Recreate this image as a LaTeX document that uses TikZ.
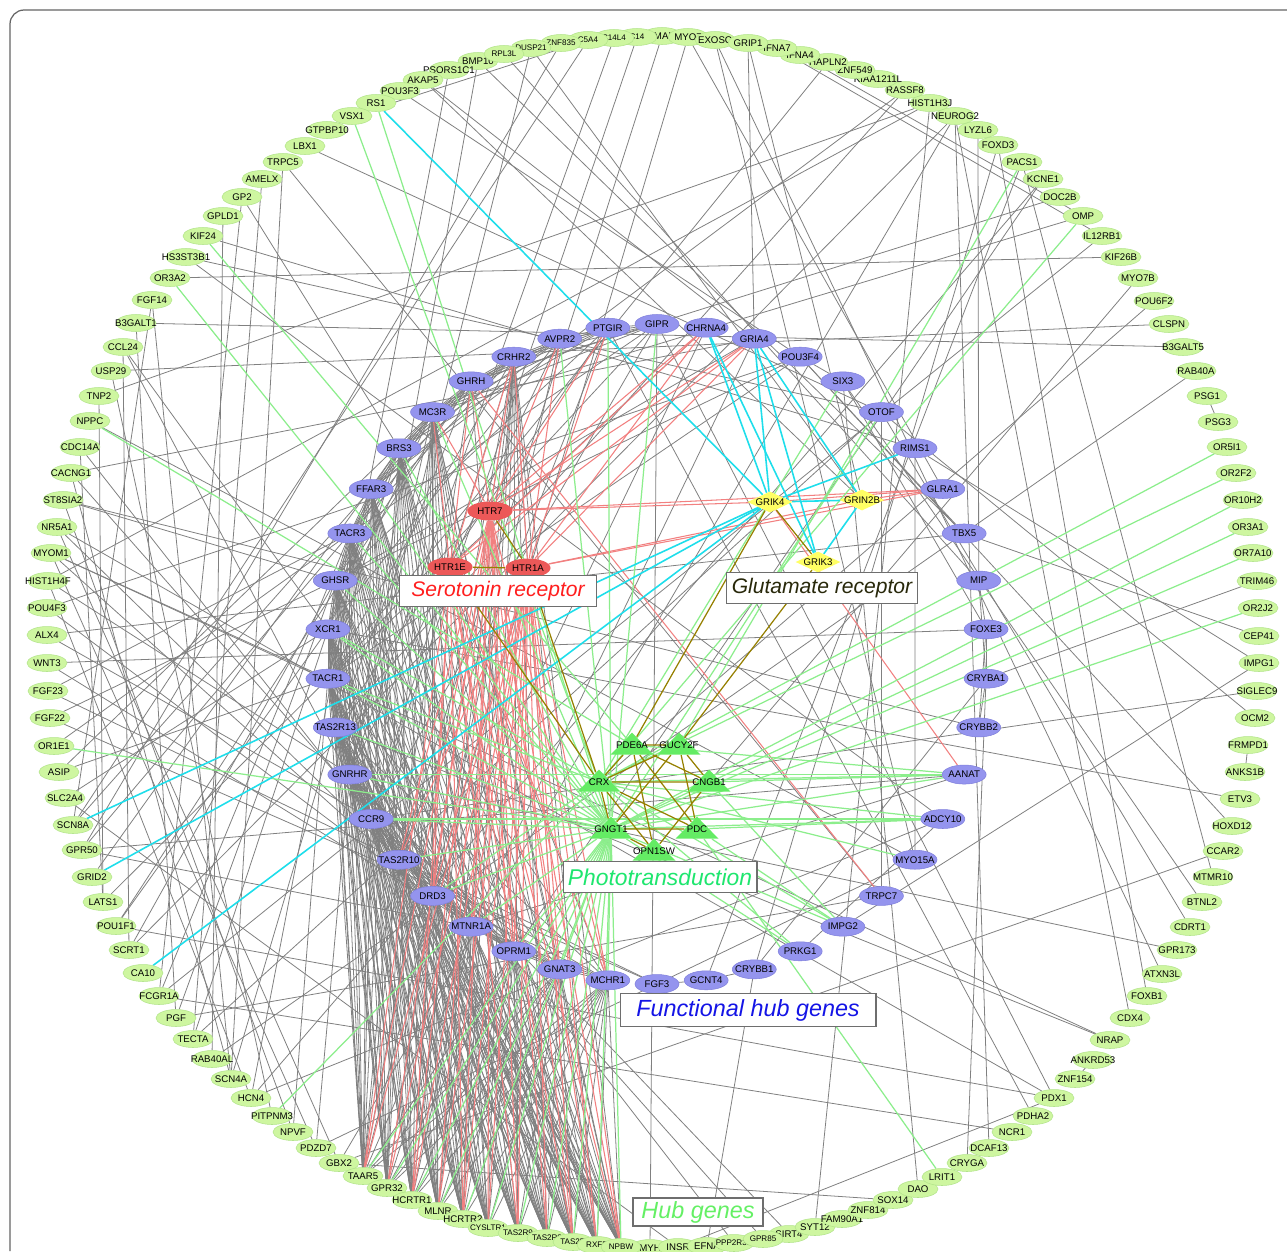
\documentclass[tikz,border=0pt]{standalone}
\usepackage{fontspec}
\setmainfont{Liberation Sans}
\usetikzlibrary{shapes.geometric, backgrounds}

\definecolor{ringfill}{RGB}{206,246,160}
\definecolor{ringline}{RGB}{178,228,138}
\definecolor{hubfill}{RGB}{148,148,238}
\definecolor{hubline}{RGB}{128,128,220}
\definecolor{serofill}{RGB}{236,88,88}
\definecolor{glutfill}{RGB}{255,255,100}
\definecolor{photofill}{RGB}{100,236,100}
\definecolor{linkgray}{RGB}{128,128,128}
\definecolor{linkgreen}{RGB}{140,238,140}
\definecolor{linkpink}{RGB}{242,128,128}
\definecolor{linkcyan}{RGB}{30,222,235}
\definecolor{linkolive}{RGB}{150,128,0}
\definecolor{framegray}{RGB}{100,100,100}
\definecolor{tagline}{RGB}{110,110,110}
\definecolor{textred}{RGB}{255,30,30}
\definecolor{textolive}{RGB}{40,40,10}
\definecolor{textgreen}{RGB}{30,230,110}
\definecolor{textblue}{RGB}{20,20,230}
\definecolor{textlime}{RGB}{100,240,100}

\begin{document}
\begin{tikzpicture}[
        x=0.02cm, y=-0.02cm,
        slim/.style={
            execute at begin node={\hbox to 0pt\bgroup\hss},
            execute at end node={\hss\egroup}
        },
        ringgene/.style={
            ellipse, slim,
            fill=ringfill, draw=ringline, line width=0.3pt,
            inner sep=0pt,
            minimum width=0.8cm, minimum height=0.34cm,
            font=\fontsize{5.5}{6}\selectfont
        },
        tightgene/.style={
            ringgene,
            font=\fontsize{4.6}{5}\selectfont
        },
        hubgene/.style={
            ellipse, slim,
            fill=hubfill, draw=hubline, line width=0.3pt,
            inner sep=0pt,
            minimum width=0.88cm, minimum height=0.38cm,
            font=\fontsize{5.5}{6}\selectfont
        },
        serogene/.style={
            ellipse, slim,
            fill=serofill, inner sep=0pt,
            minimum width=0.9cm, minimum height=0.38cm,
            font=\fontsize{5.5}{6}\selectfont
        },
        glutgene/.style={
            diamond, slim,
            fill=glutfill, inner sep=0pt,
            minimum width=0.9cm, minimum height=0.42cm,
            font=\fontsize{5.5}{6}\selectfont
        },
        photogene/.style={
            isosceles triangle, isosceles triangle stretches,
            shape border rotate=90, slim,
            fill=photofill, inner sep=0pt,
            minimum width=0.86cm, minimum height=0.44cm,
            font=\fontsize{5.5}{6}\selectfont
        },
        graylink/.style={draw=linkgray, line width=0.45pt},
        greenlink/.style={draw=linkgreen, line width=0.7pt},
        pinklink/.style={draw=linkpink, line width=0.6pt},
        cyanlink/.style={draw=linkcyan, line width=0.9pt},
        olivelink/.style={draw=linkolive, line width=0.7pt},
        legendtag/.style={
            rectangle, draw=tagline, fill=white,
            line width=0.6pt, inner sep=0pt
        }
        ]

        \useasboundingbox (0,0) rectangle (1287,1251);

        % Frame
        \draw[framegray, line width=0.7pt, rounded corners=8pt]
        (1287,10) -- (10,10) -- (10,1251);

        % Outer ring of genes
        \foreach \n/\px/\py in {LMAN/662/36, BMP10/478/61, PSORS1C1/449/70, AKAP5/423/80, POU3F3/400/91, RS1/376/103, VSX1/352/116, GTPBP10/327/130, LBX1/305/146, TRPC5/283/162, AMELX/262/179, GP2/242/197, GPLD1/223/216, KIF24/203/236, HS3ST3B1/186/257, OR3A2/170/278, FGF14/152/300, B3GALT1/136/323, CCL24/123/347, USP29/111/371, TNP2/99/396, NPPC/90/421, CDC14A/80/447, CACNG1/71/473, ST8SIA2/63/500, NR5A1/57/527, MYOM1/51/553, HIST1H4F/48/581, POU4F3/47/608, ALX4/47/635, WNT3/47/663, FGF23/48/691, FGF22/50/718, OR1E1/54/746, ASIP/59/772, SLC2A4/65/798, SCN8A/73/825, GPR50/82/850, GRID2/92/877, LATS1/103/902, POU1F1/116/926, SCRT1/129/950, CA10/143/973, FCGR1A/159/996, PGF/176/1018, TECTA/193/1039, RAB40AL/212/1059, SCN4A/231/1079, HCN4/251/1098, PITPNM3/272/1116, NPVF/293/1132, PDZD7/316/1148, GBX2/339/1163, TAAR5/363/1176, GPR32/387/1188, HCRTR1/412/1200, MLNR/438/1211, HCRTR2/463/1219, MYH/650/1248, INSR/678/1247, EFNA/707/1246, SIRT4/789/1234, SYT12/815/1227, FAM90A1/842/1219, ZNF814/868/1210, SOX14/893/1200, DAO/918/1189, LRIT1/942/1177, CRYGA/967/1163, DCAF13/989/1148, NCR1/1012/1132, PDHA2/1033/1116, PDX1/1054/1098, ZNF154/1075/1079, ANKRD53/1093/1060, NRAP/1110/1040, CDX4/1130/1018, FOXB1/1147/996, ATXN3L/1162/974, GPR173/1177/950, CDRT1/1190/927, BTNL2/1202/902, MTMR10/1213/877, CCAR2/1223/851, HOXD12/1232/826, ETV3/1240/799, ANKS1B/1245/772, FRMPD1/1248/745, OCM2/1255/718, SIGLEC9/1257/691, IMPG1/1259/663, CEP41/1259/636, OR2J2/1258/608, TRIM46/1257/581, OR7A10/1253/553, OR3A1/1248/527, OR10H2/1243/500, OR2F2/1236/473, OR5I1/1227/447, PSG3/1218/422, PSG1/1207/396, RAB40A/1196/371, B3GALT5/1183/347, CLSPN/1169/324, POU6F2/1154/301, MYO7B/1138/278, KIF26B/1121/257, IL12RB1/1102/236, OMP/1083/216, DOC2B/1060/197, KCNE1/1043/179, PACS1/1022/162, FOXD3/998/145, LYZL6/978/130, NEUROG2/955/116, HIST1H3J/930/103, RASSF8/905/90, KIAA1211L/878/79, ZNF549/855/70, HAPLN2/828/62, IFNA4/800/55, IFNA7/777/48, MYO7/688/37, EXOSC/715/40, GRIP1/748/43}
        \node[ringgene] (\n) at (\px,\py) {\n};
        \foreach \n/\px/\py in {C14/637/37, C14L4/614/38, C5A4/588/40, ZNF835/561/43, DUSP21/531/48, RPL3L/504/54, CYSLTR1/488/1228, TAS2R9/518/1233, TAS2R8/547/1238, TAS2R/573/1242, RXFP/597/1245, NPBW/621/1247, PPP2R3B/734/1243, GPR85/763/1239}
        \node[tightgene] (\n) at (\px,\py) {\n};

        % Inner ring of functional hub genes
        \foreach \n [count=\i from 0] in {GIPR, CHRNA4, GRIA4, POU3F4, SIX3, OTOF, RIMS1, GLRA1, TBX5, MIP, FOXE3, CRYBA1, CRYBB2, AANAT, ADCY10, MYO15A, TRPC7, IMPG2, PRKG1, CRYBB1, GCNT4, FGF3, MCHR1, GNAT3, OPRM1, MTNR1A, DRD3, TAS2R10, CCR9, GNRHR, TAS2R13, TACR1, XCR1, GHSR, TACR3, FFAR3, BRS3, MC3R, GHRH, CRHR2, AVPR2, PTGIR}
        \node[hubgene] (\n) at ({657+330*cos(90-\i*360/42)}, {654-330*sin(90-\i*360/42)}) {\n};

        % Serotonin receptors
        \node[serogene] (HTR7) at (490,511) {HTR7};
        \node[serogene] (HTR1E) at (450,567) {HTR1E};
        \node[serogene] (HTR1A) at (528,568) {HTR1A};

        % Glutamate receptors
        \node[glutgene] (GRIK4) at (770,502) {GRIK4};
        \node[glutgene] (GRIN2B) at (862,500) {GRIN2B};
        \node[glutgene] (GRIK3) at (818,562) {GRIK3};

        % Phototransduction
        \node[photogene] (PDE6A) at (632,745) {PDE6A};
        \node[photogene] (GUCY2F) at (679,745) {GUCY2F};
        \node[photogene] (CRX) at (599,782) {CRX};
        \node[photogene] (CNGB1) at (709,782) {CNGB1};
        \node[photogene] (GNGT1) at (611,829) {GNGT1};
        \node[photogene] (PDC) at (697,829) {PDC};
        \node[photogene] (OPN1SW) at (654,851) {OPN1SW};

        % Labels
        \node[legendtag, text=textred, minimum width=3.94cm, minimum height=0.62cm,
        font=\itshape\fontsize{12}{14}\selectfont] (serotag) at (498,591) {Serotonin receptor};
        \node[legendtag, text=textolive, minimum width=3.82cm, minimum height=0.62cm,
        font=\itshape\fontsize{12}{14}\selectfont] (gluttag) at (822,588) {Glutamate receptor};
        \node[legendtag, text=textgreen, minimum width=3.88cm, minimum height=0.62cm,
        font=\itshape\fontsize{13}{15}\selectfont] (phototag) at (660,877) {Phototransduction};
        \node[legendtag, text=textblue, minimum width=5.12cm, minimum height=0.66cm,
        font=\itshape\fontsize{13.3}{15}\selectfont] (hubtag) at (748,1010) {Functional hub genes};
        \node[legendtag, text=textlime, minimum width=2.6cm, minimum height=0.56cm,
        font=\itshape\fontsize{13.3}{15}\selectfont] (genetag) at (698,1212) {Hub genes};

        \begin{pgfonlayer}{background}
        \fill[white] (0,0) rectangle (1287,1251);

        % Receptor fan to the lower rim
        \foreach \p in {TAAR5, GPR32, HCRTR1, MLNR, HCRTR2, CYSLTR1, TAS2R9, TAS2R8, TAS2R, RXFP, NPBW}
        \foreach \q in {BRS3, FFAR3, TACR3, GHSR, XCR1, TACR1, TAS2R13, GNRHR, CCR9, TAS2R10, DRD3, MTNR1A, OPRM1, GNAT3, MCHR1, MC3R, CRHR2}
        \draw[graylink] (\p) -- (\q);

        % Receptor arc
        \foreach \p [count=\i] in {GIPR, PTGIR, AVPR2, CRHR2, GHRH, MC3R, BRS3, FFAR3, TACR3, GHSR, XCR1, TACR1, TAS2R13, GNRHR, CCR9, TAS2R10, DRD3, MTNR1A, OPRM1, GNAT3, MCHR1}
        \foreach \q [count=\j] in {GIPR, PTGIR, AVPR2, CRHR2, GHRH, MC3R, BRS3, FFAR3, TACR3, GHSR, XCR1, TACR1, TAS2R13, GNRHR, CCR9, TAS2R10, DRD3, MTNR1A, OPRM1, GNAT3, MCHR1}
        {
            \pgfmathtruncatemacro\keep{(\j>\i)&&((\j-\i<6)||(\j-\i==8)||(\j-\i==11)||(\j-\i==14))}
            \ifnum\keep=1 \draw[graylink] (\p) -- (\q); \fi
        }

        % Other gray links
        \foreach \p/\q in {MYO7/GLRA1, MYO7/DRD3, LMAN/TAS2R10, C14/CCR9, C14L4/GNRHR, C5A4/SCN8A, VSX1/C5A4, ZNF835/GPR50, DUSP21/GRIN2B, DUSP21/GNRHR, RPL3L/MIP, BMP10/TBX5, BMP10/GNRHR, PSORS1C1/HCN4, AKAP5/GRIA4, AKAP5/GRIN2B, POU3F3/POU3F4, LBX1/OTOF, TRPC5/TRPC7, TRPC5/SCN4A, AMELX/TECTA, GP2/BRS3, GP2/FCGR1A, GPLD1/RAB40AL, KIF24/RIMS1, HS3ST3B1/ADCY10, HS3ST3B1/OTOF, FGF14/SCN8A, FGF14/SCN4A, B3GALT1/B3GALT5, B3GALT1/PGF, CCL24/XCR1, CCL24/CCR9, USP29/CLSPN, TNP2/HIST1H3J, NPPC/MYO15A, CDC14A/LATS1, CACNG1/SCN4A, CACNG1/GRIA4, ST8SIA2/CRYBB2, NR5A1/PDX1, MYOM1/NRAP, HIST1H4F/HIST1H3J, POU4F3/POU3F4, ALX4/TBX5, WNT3/FOXE3, FGF23/FGF3, FGF22/FGF3, ASIP/MC3R, SLC2A4/INSR, GPR50/MTNR1A, POU1F1/PDX1, POU1F1/GHRH, SCRT1/NEUROG2, PGF/TRPC7, TECTA/OTOF, RAB40AL/RAB40A, HCN4/ADCY10, HCN4/KCNE1, FCGR1A/IL12RB1, NPVF/GHSR, PDZD7/MYO15A, GBX2/SOX14, GPR85/GNRHR, SYT12/HIST1H3J, DAO/SIX3, CRYGA/CRYBA1, LYZL6/MIP, DCAF13/NEUROG2, NCR1/FCGR1A, PDHA2/PTGIR, PDX1/GIPR, ZNF154/ANKRD53, NRAP/TAS2R13, CDX4/NEUROG2, FOXB1/FOXD3, ATXN3L/EXOSC, GPR173/GNRHR, CDRT1/OTOF, BTNL2/SIX3, MTMR10/PACS1, CCAR2/GBX2, HOXD12/POU3F4, ETV3/XCR1, ANKS1B/FRMPD1, OCM2/OTOF, SIGLEC9/CCR9, IMPG1/RIMS1, IMPG1/IMPG2, CEP41/TBX5, TRIM46/CRYBA1, PSG1/PSG3, POU6F2/CRX, MYO7B/CNGB1, KIF26B/OR3A2, DOC2B/GHRH, OMP/MC3R, KCNE1/OPRM1, PACS1/GCNT4, FOXD3/CRYBB1, RASSF8/FFAR3, RASSF8/TAS2R13, IFNA7/IL12RB1, IFNA4/OMP, HAPLN2/TACR1, GRIP1/GRIA4, GRIP1/GRIN2B, EXOSC/MYO15A, MIP/FOXE3, FOXE3/CRYBA1, MIP/CRYBA1, CRYBA1/CRYBB2, FOXE3/CRYBB2, CRYBB1/CRYBA1, CRYBB1/GCNT4, OTOF/TRPC7, RIMS1/MYO15A, AANAT/MTNR1A, AANAT/GPR50, SIX3/POU3F4, POU3F4/TBX5, POU3F4/GHSR, POU3F4/TACR1, SIX3/FOXE3, CHRNA4/TACR1, CHRNA4/DRD3, GRIA4/GHSR, GRIA4/MTNR1A, GCNT4/FGF3, PRKG1/ADCY10, GBX2/NEUROG2, PDZD7/GNRHR, MYH/GIPR, INSR/PDX1, EFNA/CRYBB1, PPP2R3B/TAS2R13, SIRT4/GNRHR}
        \draw[graylink] (\p) -- (\q);

        % Gray links on the left rim
        \foreach \p/\q in {MYOM1/TACR1, MYOM1/DRD3, HIST1H4F/GNRHR, NR5A1/TAS2R10, ST8SIA2/GHSR, POU4F3/MTNR1A, ALX4/CCR9, WNT3/OPRM1, FGF23/TACR3, FGF22/GHSR, ASIP/TACR1, SLC2A4/XCR1, GPR50/TACR3, LATS1/TACR1, POU1F1/XCR1, SCRT1/GHSR, CACNG1/MTNR1A, CDC14A/DRD3, FCGR1A/TACR3, PGF/GHSR, TECTA/XCR1, SCN4A/TAS2R13, ST8SIA2/NPVF, MYOM1/PDZD7, NR5A1/GBX2, HIST1H4F/HCN4, TNP2/LATS1, CCL24/SCRT1, USP29/PITPNM3, OR1E1/TACR3, GRID2/BRS3, SCN8A/FFAR3}
        \draw[graylink] (\p) -- (\q);

        % Serotonin links
        \foreach \p in {HTR7, HTR1A}
        \foreach \q in {TAAR5, GPR32, HCRTR1, MLNR, HCRTR2, CYSLTR1, TAS2R9, TAS2R8, TAS2R, RXFP, NPBW, DRD3, MTNR1A, OPRM1, GNAT3, MCHR1, TAS2R10, CHRNA4, GRIA4, CRHR2}
        \draw[pinklink] (\p) -- (\q);
        \foreach \q in {TAAR5, HCRTR1, HCRTR2, TAS2R9, TAS2R, NPBW, DRD3, OPRM1, MCHR1, CHRNA4, GRIA4, CRHR2}
        \draw[pinklink] (HTR1E) -- (\q);
        \foreach \p/\q in {HTR7/MC3R, HTR7/GHRH, HTR7/AVPR2, HTR7/PTGIR, HTR7/GLRA1, HTR7/GRIK4, HTR1A/AVPR2, HTR1A/PTGIR, HTR1A/GLRA1, HTR1A/GRIN2B, HTR1E/GHRH, HTR1E/MC3R, GHRH/TRPC7, GRIK4/AANAT, GRIK4/GLRA1, GRIN2B/GLRA1}
        \draw[pinklink] (\p) -- (\q);

        % Phototransduction links
        \foreach \q in {TAAR5, GPR32, HCRTR1, MLNR, HCRTR2, CYSLTR1, TAS2R9, TAS2R8, TAS2R, RXFP, NPBW, MCHR1, GNAT3, OPRM1, MTNR1A, DRD3, TAS2R10, CCR9, GNRHR, TAS2R13, TACR1, XCR1, GHSR, TACR3, FFAR3, BRS3, MC3R, PTGIR, GIPR, AVPR2}
        \draw[greenlink] (GNGT1) -- (\q);
        \foreach \p/\q in {OR5I1/CRX, OR2F2/CRX, OR10H2/GNGT1, OR3A1/GNGT1, OR7A10/GNGT1, OR2J2/GNGT1, OR3A2/GNGT1, OR1E1/GNGT1, KIF24/PDE6A, NPPC/PDE6A, RS1/GNGT1, VSX1/CRX, PITPNM3/CRX, OMP/CRX, PACS1/GUCY2F, LRIT1/PDC, AANAT/CRX, AANAT/CNGB1, AANAT/GNGT1, AANAT/PDE6A, ADCY10/GNGT1, ADCY10/PDC, ADCY10/CRX, IMPG2/CRX, IMPG2/GNGT1, IMPG2/PDC, IMPG2/CNGB1, PRKG1/CRX, PRKG1/GNGT1, AANAT/GNRHR, ADCY10/CCR9, OTOF/GNGT1, SIX3/CRX, MYO15A/CRX, CRX/TACR1, CRX/XCR1, CRX/DRD3}
        \draw[greenlink] (\p) -- (\q);

        % Glutamate links
        \foreach \p/\q in {RS1/GRIK4, SCN8A/GRIK4, GRID2/GRIK4, CA10/GRIK4, CHRNA4/GRIK4, CHRNA4/GRIK3, GRIA4/GRIK4, GRIA4/GRIK3, GRIA4/GRIN2B, RIMS1/GRIK4, GRIK4/GRIN2B, GRIK3/GRIN2B}
        \draw[cyanlink] (\p) -- (\q);

        % Links inside the modules
        \foreach \p/\q in {PDE6A/GUCY2F, PDE6A/CRX, PDE6A/CNGB1, PDE6A/PDC, PDE6A/OPN1SW, GUCY2F/CRX, GUCY2F/CNGB1, GUCY2F/GNGT1, GUCY2F/PDC, CRX/CNGB1, CRX/PDC, CRX/OPN1SW, CRX/GNGT1, GNGT1/PDC, GNGT1/OPN1SW, CNGB1/OPN1SW, HTR7/HTR1A, HTR1E/HTR1A, GRIK4/GRIK3, HTR1E/CRX, HTR1A/CRX, GRIK3/GUCY2F, GRIK4/PDE6A}
        \draw[olivelink] (\p) -- (\q);
        \end{pgfonlayer}

    \end{tikzpicture}
\end{document}
